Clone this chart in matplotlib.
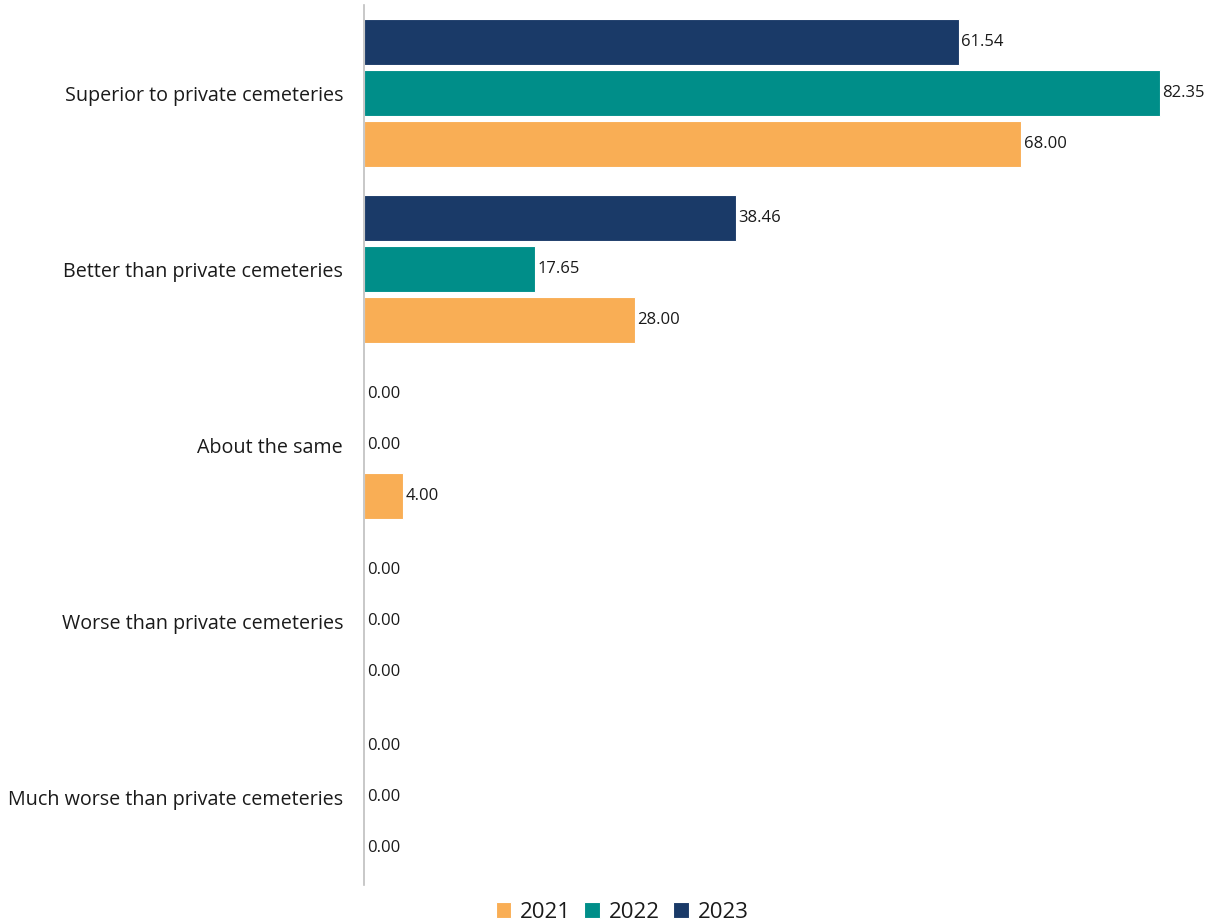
import numpy as np
import matplotlib.pyplot as plt

plt.rcParams['font.family'] = ['Open Sans', 'DejaVu Sans']

categories = ['Superior to private cemeteries', 'Better than private cemeteries',
              'About the same', 'Worse than private cemeteries',
              'Much worse than private cemeteries']
years = ['2021', '2022', '2023']
v2021 = [68.00, 28.00, 4.00, 0.00, 0.00]
v2022 = [82.35, 17.65, 0.00, 0.00, 0.00]
v2023 = [61.54, 38.46, 0.00, 0.00, 0.00]
colors = ['#F9AE55', '#008E89', '#1A3A68']

fig = plt.figure(figsize=(12.12, 9.22), dpi=100)
ax = fig.add_axes([364/1212, 37/922, 831/1212, 880/922])

y = np.arange(len(categories))
step = 0.29
h = 0.262
# offsets: 2021 bottom, 2023 top (axis inverted)
offs = [step, 0, -step]
for vals, off, col, lab in zip([v2021, v2022, v2023], offs, colors, years):
    bars = ax.barh(y + off, vals, height=h, color=col, edgecolor='white',
                   linewidth=0.8, label=lab)
    for b, v in zip(bars, vals):
        ax.annotate(f'{v:.2f}', (v, b.get_y() + b.get_height() / 2),
                    xytext=(2, 0), textcoords='offset points',
                    va='center', ha='left', fontsize=12, color='#1a1a1a')

ax.set_xlim(0, 86)
ax.set_ylim(4.5, -0.5)
ax.set_yticks(y)
ax.set_yticklabels(categories, fontsize=14.2, color='#1a1a1a')
ax.tick_params(axis='y', length=0, pad=15)
ax.set_xticks([])
for s in ['top', 'right', 'bottom']:
    ax.spines[s].set_visible(False)
ax.spines['left'].set_color('#BFBFBF')
ax.spines['left'].set_linewidth(1.2)

handles, labels = ax.get_legend_handles_labels()
fig.legend(handles, labels, loc='center', bbox_to_anchor=(622/1212, 10/922),
           ncol=3, frameon=False, fontsize=16, handlelength=0.7, handleheight=0.7,
           handletextpad=0.4, columnspacing=0.6, labelcolor='#1a1a1a')

fig.savefig('out.png', dpi=100)
